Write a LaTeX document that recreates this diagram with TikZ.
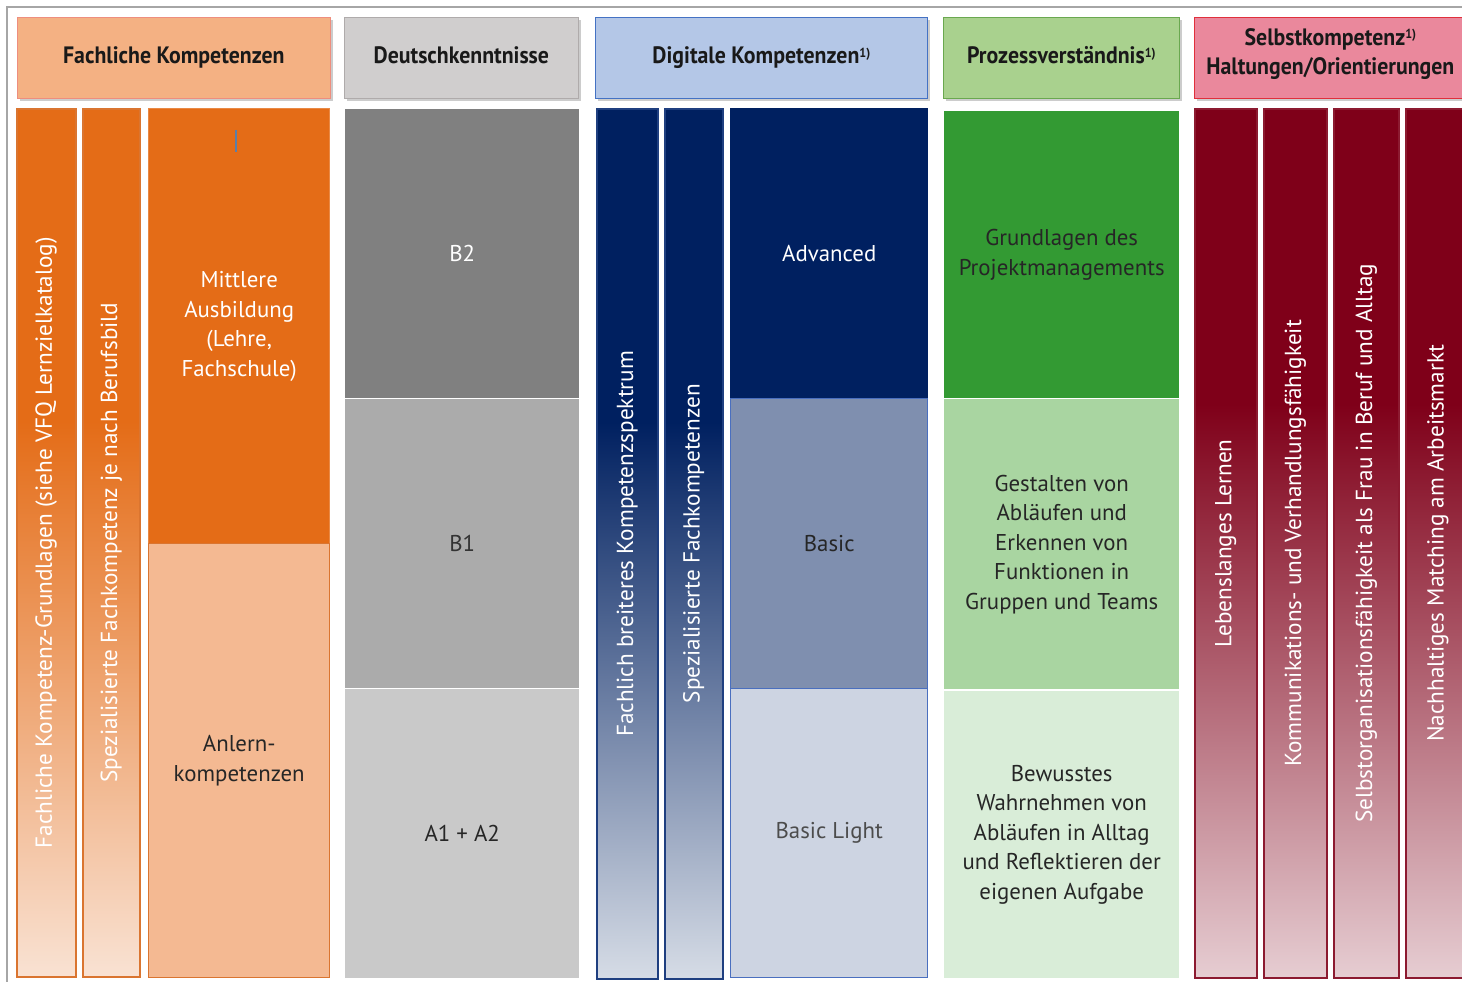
\documentclass[tikz,border=0pt]{standalone}
\usepackage{fontspec}
\setmainfont{PT Sans}
\newfontfamily\headfont{PT Sans}[FakeStretch=0.92]
\usetikzlibrary{shadows}

% colours
\definecolor{framegray}{HTML}{A6A6A6}
\definecolor{hdrorange}{HTML}{F4B183}
\definecolor{hdrorangeline}{HTML}{EE8E7E}
\definecolor{hdrgray}{HTML}{D0CECE}
\definecolor{hdrgrayline}{HTML}{AFABAB}
\definecolor{hdrblue}{HTML}{B4C7E7}
\definecolor{hdrblueline}{HTML}{4472C4}
\definecolor{hdrgreen}{HTML}{A9D18E}
\definecolor{hdrgreenline}{HTML}{6AA84F}
\definecolor{hdrred}{HTML}{EA889C}
\definecolor{hdrredline}{HTML}{E0303C}
\definecolor{ordark}{HTML}{E46C17}
\definecolor{orlight}{HTML}{F9E2D3}
\definecolor{orline}{HTML}{DA7530}
\definecolor{orpale}{HTML}{F4B992}
\definecolor{navy}{HTML}{002060}
\definecolor{navylight}{HTML}{D6DCE6}
\definecolor{navyline}{HTML}{1F3F80}
\definecolor{bluemid}{HTML}{7F8FAF}
\definecolor{bluepale}{HTML}{CDD4E2}
\definecolor{blueline}{HTML}{4A6FBF}
\definecolor{grgreen}{HTML}{339A33}
\definecolor{grmid}{HTML}{A9D5A1}
\definecolor{grpale}{HTML}{D9EDD8}
\definecolor{wine}{HTML}{7F0019}
\definecolor{winelight}{HTML}{E6CDD2}
\definecolor{wineline}{HTML}{8C1A30}
\definecolor{cursorblue}{HTML}{5B7FA8}

% fades: solid on top, light at the bottom
\pgfdeclareverticalshading{orangefade}{100bp}{color(0bp)=(orlight); color(25bp)=(orlight); color(57bp)=(ordark); color(100bp)=(ordark)}
\pgfdeclareverticalshading{navyfade}{100bp}{color(0bp)=(navylight); color(25bp)=(navylight); color(57bp)=(navy); color(100bp)=(navy)}
\pgfdeclareverticalshading{winefade}{100bp}{color(0bp)=(winelight); color(25bp)=(winelight); color(58bp)=(wine); color(100bp)=(wine)}

\newcommand{\pxl}{0.02cm}
\newcommand{\fnmark}{\raisebox{0.55ex}{\fontsize{7.5}{7.5}\selectfont 1)}}

\begin{document}
\begin{tikzpicture}[x=0.02cm, y=-0.02cm,
header/.style={rectangle, anchor=north west, inner sep=2pt, align=center, thin, text=black!90, font=\headfont\bfseries\fontsize{13.5}{16.5}\selectfont, drop shadow={shadow xshift=1.6pt, shadow yshift=-1.6pt, fill=black!40, opacity=0.5}},
cell/.style={rectangle, anchor=north west, inner sep=2pt, align=center, line width=0.8pt, font=\fontsize{13}{16.8}\selectfont},
column/.style={rectangle, anchor=north west, inner sep=0pt, shade, line width=0.9pt},
column_text/.style={rotate=90, text=white, font=\fontsize{13.2}{15}\selectfont}
]
\useasboundingbox (0,0) rectangle (1462,982);

% frame
\draw[framegray, line width=0.8pt] (7,982) -- (7,7) -- (1462,7);

% headers
\node[header, fill=hdrorange, draw=hdrorangeline, minimum width=313*\pxl, minimum height=81*\pxl](head_fach) at (17,17) {\strut Fachliche Kompetenzen};
\node[header, fill=hdrgray, draw=hdrgrayline, minimum width=234*\pxl, minimum height=81*\pxl](head_deutsch) at (344,17) {\strut Deutschkenntnisse};
\node[header, fill=hdrblue, draw=hdrblueline, minimum width=332*\pxl, minimum height=81*\pxl](head_digital) at (595,17) {\strut Digitale Kompetenzen\fnmark};
\node[header, fill=hdrgreen, draw=hdrgreenline, minimum width=236*\pxl, minimum height=81*\pxl](head_prozess) at (943,17) {\strut Prozessverständnis\fnmark};
\node[header, fill=hdrred, draw=hdrredline, minimum width=272*\pxl, minimum height=81*\pxl](head_selbst) at (1194,17) {Selbstkompetenz\fnmark\\Haltungen/Orientierungen\\[-9pt]\mbox{}};

% Fachliche Kompetenzen
\node[column, shading=orangefade, draw=orline, minimum width=59*\pxl, minimum height=868*\pxl](fach_basis) at (16,108) {};
\node[column_text](fach_basis_text) at (fach_basis.center) {Fachliche Kompetenz-Grundlagen (siehe VFQ Lernzielkatalog)};
\node[column, shading=orangefade, draw=orline, minimum width=57*\pxl, minimum height=868*\pxl](fach_spezial) at (82,108) {};
\node[column_text](fach_spezial_text) at (fach_spezial.center) {Spezialisierte Fachkompetenz je nach Berufsbild};
\node[cell, fill=ordark, draw=ordark!80!white, text=white, minimum width=181*\pxl, minimum height=435*\pxl](mittlere) at (148,108) {Mittlere\\Ausbildung\\(Lehre,\\Fachschule)};
\node[cell, fill=orpale, draw=orline, text=black!85, minimum width=181*\pxl, minimum height=434*\pxl](anlern) at (148,543) {Anlern-\\kompetenzen};
\draw[cursorblue, line width=1pt] (236,130) -- (236,152);

% Deutschkenntnisse
\node[cell, fill=black!50, draw=white, text=white, minimum width=235*\pxl, minimum height=290*\pxl](b_zwei) at (344,108) {B2};
\node[cell, fill=black!33, draw=white, text=black!80, minimum width=235*\pxl, minimum height=290*\pxl](b_eins) at (344,398) {B1};
\node[cell, fill=black!21, draw=white, text=black!85, minimum width=235*\pxl, minimum height=290*\pxl](a_eins_zwei) at (344,688) {A1 + A2};

% Digitale Kompetenzen
\node[column, shading=navyfade, draw=navyline, minimum width=61*\pxl, minimum height=870*\pxl](dig_breit) at (596,108) {};
\node[column_text](dig_breit_text) at (dig_breit.center) {Fachlich breiteres Kompetenzspektrum};
\node[column, shading=navyfade, draw=navyline, minimum width=58*\pxl, minimum height=870*\pxl](dig_spezial) at (664,108) {};
\node[column_text](dig_spezial_text) at (dig_spezial.center) {Spezialisierte Fachkompetenzen};
\node[cell, fill=navy, draw=navy, text=white, minimum width=197*\pxl, minimum height=290*\pxl](advanced) at (730,108) {Advanced};
\node[cell, fill=bluemid, draw=blueline, text=black!85, minimum width=197*\pxl, minimum height=290*\pxl](basic) at (730,398) {Basic};
\node[cell, fill=bluepale, draw=blueline, text=black!70, minimum width=197*\pxl, minimum height=289*\pxl](basic_light) at (730,688) {Basic Light};

% Prozessverstaendnis
\node[cell, fill=grgreen, draw=white, text=black!85, minimum width=236*\pxl, minimum height=288*\pxl](projekt) at (943,110) {Grundlagen des\\Projektmanagements};
\node[cell, fill=grmid, draw=white, text=black!85, minimum width=236*\pxl, minimum height=291*\pxl](gestalten) at (943,398) {Gestalten von\\Abläufen und\\Erkennen von\\Funktionen in\\Gruppen und Teams};
\node[cell, fill=grpale, draw=white, text=black!85, minimum width=236*\pxl, minimum height=288*\pxl](wahrnehmen) at (943,690) {Bewusstes\\Wahrnehmen von\\Abläufen in Alltag\\und Reflektieren der\\eigenen Aufgabe};

% Selbstkompetenz
\node[column, shading=winefade, draw=wineline, minimum width=62*\pxl, minimum height=869*\pxl](lernen) at (1194,108) {};
\node[column_text](lernen_text) at (lernen.center) {Lebenslanges Lernen};
\node[column, shading=winefade, draw=wineline, minimum width=63*\pxl, minimum height=869*\pxl](kommunikation) at (1263,108) {};
\node[column_text](kommunikation_text) at (kommunikation.center) {Kommunikations- und Verhandlungsfähigkeit};
\node[column, shading=winefade, draw=wineline, minimum width=65*\pxl, minimum height=869*\pxl](organisation) at (1333,108) {};
\node[column_text](organisation_text) at (organisation.center) {Selbstorganisationsfähigkeit als Frau in Beruf und Alltag};
\node[column, shading=winefade, draw=wineline, minimum width=64*\pxl, minimum height=869*\pxl](matching) at (1405,108) {};
\node[column_text](matching_text) at (matching.center) {Nachhaltiges Matching am Arbeitsmarkt};

\end{tikzpicture}
\end{document}
